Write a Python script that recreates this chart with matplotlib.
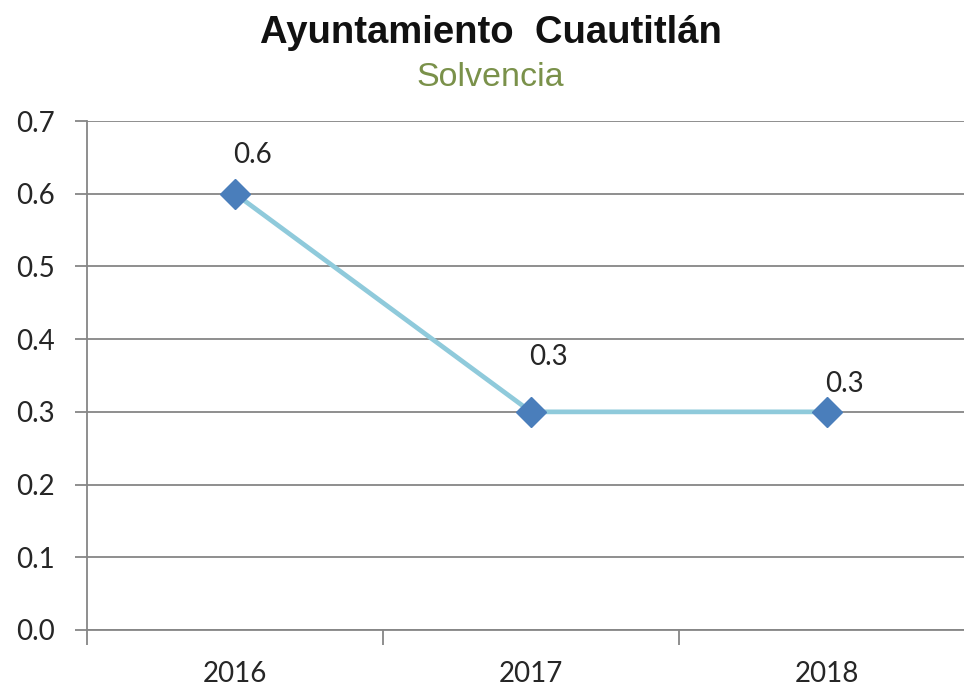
import matplotlib.pyplot as plt
from matplotlib.ticker import FixedLocator, MultipleLocator

years = ['2016', '2017', '2018']
solvencia = [0.6, 0.3, 0.3]
etiquetas = ['0.6', '0.3', '0.3']
# label offsets above each point (points), Excel placed them unevenly
label_dy = [22, 34, 14]

plt.rcParams['font.family'] = ['Lato', 'DejaVu Sans']

fig = plt.figure(figsize=(9.64, 6.9), dpi=100)
ax = fig.add_axes([87 / 964, 60 / 690, 888 / 964, 509 / 690])

x = range(len(years))
ax.plot(x, solvencia, color='#8FCADB', lw=3.4, zorder=3,
        marker='D', ms=15, mfc='#4A7EBB', mec='#4A7EBB')

for i, (v, t) in enumerate(zip(solvencia, etiquetas)):
    ax.annotate(t, (i, v), xytext=(-1, label_dy[i]), textcoords='offset points',
                ha='left', va='baseline', fontsize=20, color='#262626')

ax.set_xlim(-0.5, 2.5)
ax.set_ylim(0, 0.7)
ax.yaxis.set_major_locator(MultipleLocator(0.1))
ax.set_yticklabels([f'{v:.1f}' for v in ax.get_yticks()])
ax.set_xticks(list(x))
ax.set_xticklabels(years)
ax.xaxis.set_minor_locator(FixedLocator([-0.5, 0.5, 1.5, 2.5]))

grid_c = '#868686'
ax.grid(axis='y', color=grid_c, lw=1.3, zorder=0)
for s in ['top', 'right']:
    ax.spines[s].set_visible(False)
for s in ['left', 'bottom']:
    ax.spines[s].set_color(grid_c)
    ax.spines[s].set_linewidth(1.3)

ax.tick_params(axis='y', length=9, width=1.3, color=grid_c, pad=14,
               labelsize=20, labelcolor='#262626')
ax.tick_params(axis='x', which='major', length=0, pad=22,
               labelsize=20, labelcolor='#262626')
ax.tick_params(axis='x', which='minor', length=11, width=1.3, color=grid_c)

fig.text(491 / 964, 1 - 43 / 690, 'Ayuntamiento  Cuautitlán', ha='center',
         va='baseline', fontsize=27.5, fontweight='bold',
         family=['Liberation Sans', 'DejaVu Sans'], color='#111111')
fig.text(490 / 964, 1 - 86 / 690, 'Solvencia', ha='center', va='baseline',
         fontsize=24.5, family=['Liberation Sans', 'DejaVu Sans'], color='#7A914A')

fig.savefig('out.png', dpi=100)
